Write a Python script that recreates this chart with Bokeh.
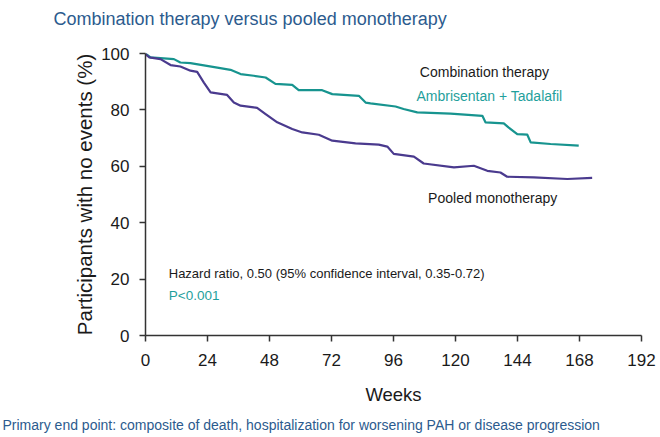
from bokeh.plotting import figure
from bokeh.models import Range1d, FixedTicker, Label, Title
from bokeh.embed import file_html
from bokeh.resources import INLINE

# ---- data ----
combo_weeks = [0, 1.9, 11.0, 13.5, 17.4, 27.8, 32.9, 36.8, 41.9, 46.5, 50.3, 56.8, 59.3,
               68.4, 72.3, 82.6, 85.2, 87.1, 96.8, 99.9, 105.2, 118.1, 130.4, 131.6,
               138.7, 140.5, 143.9, 147.8, 149.1, 156.8, 167.7]
combo_pct = [100, 98.6, 98.0, 96.8, 96.6, 95.0, 94.2, 92.7, 92.1, 91.5, 89.2, 88.9, 87.0,
             87.0, 85.6, 85.0, 82.6, 82.3, 81.2, 80.3, 79.1, 78.7, 77.9, 75.6,
             75.2, 73.8, 71.4, 71.2, 68.5, 67.9, 67.3]

mono_weeks = [0, 0.7, 1.5, 5.8, 9.7, 13.5, 17.4, 20.0, 22.6, 25.2, 31.6, 34.2, 36.8, 41.9,
              43.2, 46.5, 51.0, 56.8, 60.7, 67.1, 72.3, 81.3, 90.3, 93.6, 96.1, 103.9,
              107.7, 119.4, 127.1, 132.3, 137.4, 140.0, 150.3, 163.3, 172.9]
mono_pct = [100, 99.2, 98.6, 98.0, 95.9, 95.4, 93.9, 93.5, 89.7, 86.2, 85.3, 82.6, 81.5, 80.9,
            80.7, 78.5, 75.6, 73.2, 72.0, 71.2, 69.1, 68.1, 67.7, 67.0, 64.4, 63.4,
            61.0, 59.6, 60.2, 58.4, 57.8, 56.3, 56.1, 55.5, 55.9]

x_ticks = [0, 24, 48, 72, 96, 120, 144, 168, 192]
y_ticks = [0, 20, 40, 60, 80, 100]

FONT = "Liberation Sans"
TEAL_LINE = "#17948f"
TEAL_TEXT = "#1fa09c"
PURPLE = "#4a3a8e"
BLUE = "#2c5b8e"

p = figure(frame_width=496, frame_height=282,
           min_border_left=145, min_border_right=19,
           min_border_top=53, min_border_bottom=102,
           x_range=Range1d(0, 192), y_range=Range1d(0, 100),
           output_backend="svg", toolbar_location=None)

p.outline_line_color = None
p.xgrid.visible = False
p.ygrid.visible = False
p.background_fill_color = "white"
p.border_fill_color = "white"

p.line(combo_weeks, combo_pct, line_color=TEAL_LINE, line_width=2.2, line_join="round")
p.line(mono_weeks, mono_pct, line_color=PURPLE, line_width=2.2, line_join="round")

for ax in (p.xaxis[0], p.yaxis[0]):
    ax.axis_line_color = "#333333"
    ax.axis_line_width = 1.5
    ax.major_tick_line_color = "#333333"
    ax.major_tick_line_width = 1.5
    ax.major_tick_out = 6
    ax.major_tick_in = 0
    ax.minor_tick_line_color = None
    ax.major_label_text_font = FONT
    ax.major_label_text_font_size = "17px"
    ax.major_label_text_color = "#1a1a1a"
    ax.axis_label_text_font = FONT
    ax.axis_label_text_font_style = "normal"
    ax.axis_label_text_color = "#1a1a1a"

p.xaxis[0].ticker = FixedTicker(ticks=x_ticks)
p.yaxis[0].ticker = FixedTicker(ticks=y_ticks)
p.xaxis[0].major_label_standoff = 12
p.yaxis[0].major_label_standoff = 10
p.xaxis[0].axis_label = "Weeks"
p.xaxis[0].axis_label_text_font_size = "18.5px"
p.xaxis[0].axis_label_standoff = 15
p.yaxis[0].axis_label = "Participants with no events (%)"
p.yaxis[0].axis_label_text_font_size = "20.5px"
p.yaxis[0].axis_label_standoff = 2

def lab(x, y, text, size, color):
    p.add_layout(Label(x=x, y=y, text=text, text_font=FONT, text_font_size=size,
                       text_color=color, text_baseline="alphabetic", text_align="left"))

lab(106.2, 93.3, "Combination therapy", "14px", "#1a1a1a")
lab(104.9, 85.0, "Ambrisentan + Tadalafil", "14px", TEAL_TEXT)
lab(109.4, 48.8, "Pooled monotherapy", "14px", "#1a1a1a")
lab(9.0, 22.1, "Hazard ratio, 0.50 (95% confidence interval, 0.35-0.72)", "13px", "#1a1a1a")
lab(9.0, 14.3, "P<0.001", "13.5px", TEAL_TEXT)

# title (with an invisible spacer between it and the frame) and footnote
spacer = Title(text=" ", text_font_size="2px", standoff=12, text_color="white")
title = Title(text="Combination therapy versus pooled monotherapy", align="left",
              vertical_align="top", offset=-92, standoff=13, text_font=FONT,
              text_font_size="18px", text_font_style="normal", text_color=BLUE)
p.add_layout(spacer, "above")
p.add_layout(title, "above")
foot = Title(text="Primary end point: composite of death, hospitalization for worsening PAH or disease progression",
             align="left", offset=-143, standoff=14, text_font=FONT, text_font_size="14px",
             text_font_style="normal", text_color=BLUE)
p.add_layout(foot, "below")

open("out.html", "w").write(file_html(p, INLINE))
